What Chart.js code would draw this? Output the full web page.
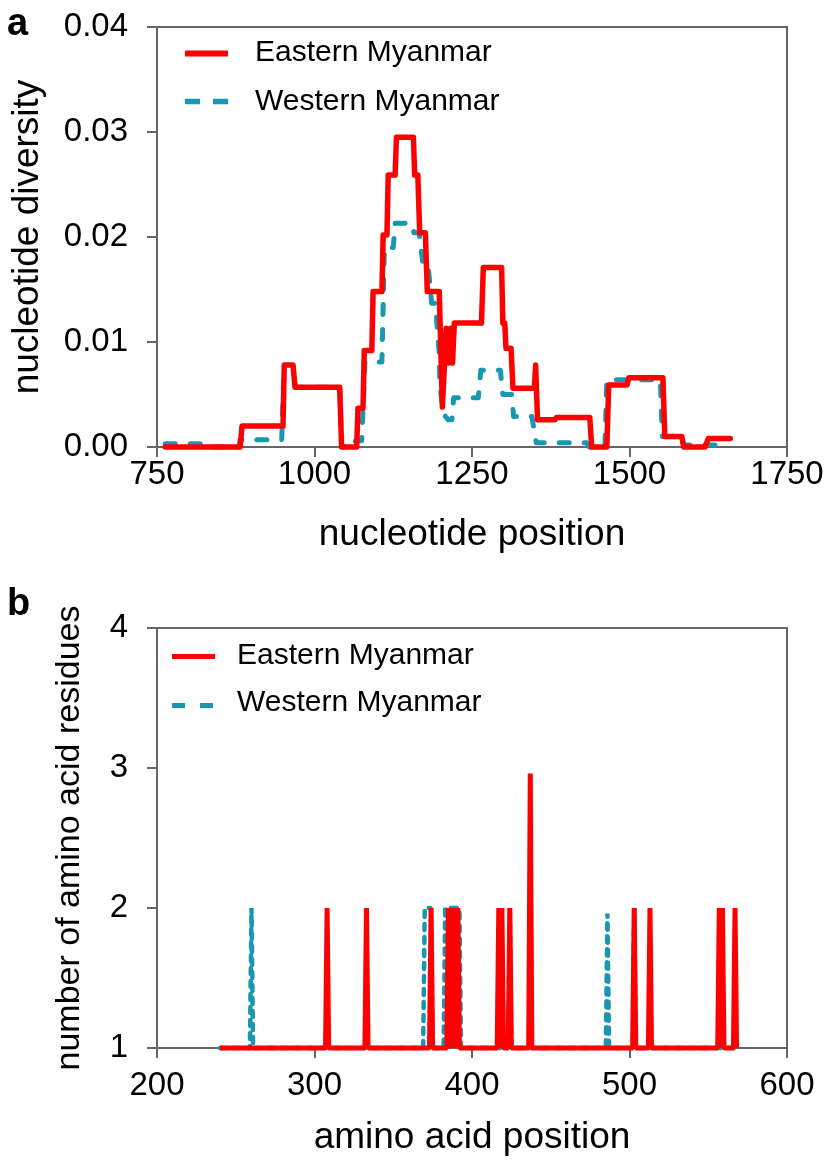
<!DOCTYPE html>
<html><head><meta charset="utf-8">
<script src="https://cdn.jsdelivr.net/npm/chart.js@4.4.0/dist/chart.umd.min.js"></script>
<style>
html,body{margin:0;padding:0;background:#fff;}
#wrap{position:relative;width:827px;height:1162px;overflow:hidden;}
canvas{position:absolute;left:0;}
#c1{top:0;}
#c2{top:580px;}
</style></head><body>
<div id="wrap"><canvas id="c1" width="827" height="580"></canvas><canvas id="c2" width="827" height="582"></canvas></div>
<script>
// ---------- DATA ----------
const seriesNames = ['Eastern Myanmar', 'Western Myanmar'];

// panel a: nucleotide diversity (sliding window)
const ntPositionEast = [763, 882, 885, 950, 952, 966, 969, 1040, 1043, 1067, 1069, 1077, 1079, 1091, 1093, 1107, 1109, 1115, 1117, 1128, 1130, 1157, 1159, 1164, 1167, 1176, 1179, 1198, 1203, 1209, 1213, 1216, 1219, 1222, 1265, 1268, 1297, 1299, 1302, 1304, 1312, 1315, 1349, 1351, 1354, 1382, 1384, 1437, 1440, 1464, 1467, 1496, 1499, 1553, 1556, 1583, 1586, 1620, 1625, 1660];
const ntDiversityEast = [0, 0, 0.002, 0.002, 0.0078, 0.0078, 0.0057, 0.0057, 0, 0, 0.0037, 0.0037, 0.0092, 0.0092, 0.0148, 0.0148, 0.0202, 0.0202, 0.0259, 0.0259, 0.0295, 0.0295, 0.0259, 0.0259, 0.0204, 0.0204, 0.0148, 0.0148, 0.0038, 0.0113, 0.0080, 0.0113, 0.0080, 0.0118, 0.0118, 0.0171, 0.0171, 0.0118, 0.0118, 0.0094, 0.0094, 0.0056, 0.0056, 0.0078, 0.0026, 0.0026, 0.0028, 0.0028, 0, 0, 0.0059, 0.0059, 0.0066, 0.0066, 0.001, 0.001, 0, 0, 0.0008, 0.0008];
const ntPositionWest = [763, 826, 828, 880, 882, 948, 951, 968, 970, 1040, 1043, 1062, 1065, 1075, 1080, 1107, 1111, 1125, 1128, 1154, 1158, 1166, 1172, 1180, 1186, 1192, 1198, 1199, 1204, 1212, 1218, 1221, 1260, 1264, 1295, 1299, 1313, 1316, 1345, 1352, 1432, 1436, 1461, 1464, 1549, 1552, 1583, 1586, 1648];
const ntDiversityWest = [0.0003, 0.0003, 0, 0, 0.0007, 0.0007, 0.0064, 0.0064, 0.0057, 0.0057, 0, 0, 0.0006, 0.0006, 0.0081, 0.0081, 0.019, 0.019, 0.0213, 0.0213, 0.0204, 0.0204, 0.0175, 0.0175, 0.0137, 0.0137, 0.0088, 0.006, 0.0032, 0.0026, 0.0026, 0.0047, 0.0047, 0.0073, 0.0073, 0.005, 0.005, 0.0029, 0.0029, 0.0004, 0.0004, 0, 0, 0.0064, 0.0064, 0.001, 0.001, 0.0002, 0.0002];
const ntTicks = [750, 1000, 1250, 1500, 1750];
const diversityTicks = [0, 0.01, 0.02, 0.03, 0.04];

// panel b: number of amino acid residues per position (1 elsewhere)
const aaRange = [240, 568];
const aaSitesEast  = [308, 333, 374, 385, 386, 387, 388, 389, 390, 391, 417, 418, 419, 424, 437, 503, 513, 557, 558, 559, 567];
const aaCountsEast = [2, 2, 2, 2, 1, 2, 1, 2, 1, 2, 2, 1, 2, 2, 2.96, 2, 2, 2, 1, 2, 2];
const aaSitesWest  = [260, 370, 371, 372, 373, 374, 383, 384, 385, 386, 387, 388, 389, 390, 391, 392, 424, 486, 503];
const aaCountsWest = [2, 2, 2, 2, 2, 2, 2, 2, 2, 2, 2, 2, 2, 2, 2, 2, 2, 1.96, 2];
const aaTicks = [200, 300, 400, 500, 600];
const residueTicks = [1, 2, 3, 4];

// ---------- HELPERS ----------
const FONT = '"Liberation Sans", Arial, Helvetica, sans-serif';
const RED = '#ff0000', TEAL = '#1798b0', AXIS = '#666666';

function pairs(xs, ys) { return xs.map((x, i) => ({x: x, y: ys[i]})); }
function spikeSeries(sites, counts, range, base) {
  const m = new Map(sites.map((s, i) => [s, counts[i]]));
  const pts = [{x: range[0], y: base}];
  sites.forEach((s, i) => {
    if (!m.has(s - 1)) pts.push({x: s - 1, y: base});
    pts.push({x: s, y: counts[i]});
    if (!m.has(s + 1)) pts.push({x: s + 1, y: base});
  });
  if (pts[pts.length - 1].x < range[1]) pts.push({x: range[1], y: base});
  return pts;
}

function xAxis(ticksArr, title, height, tickPad, titlePad) {
  return {
    type: 'linear', position: 'bottom', min: ticksArr[0], max: ticksArr[ticksArr.length - 1],
    afterBuildTicks: s => { s.ticks = ticksArr.map(v => ({value: v})); },
    afterFit: s => { s.height = height; s.paddingLeft = 0; s.paddingRight = 0; },
    border: {display: true, color: AXIS, width: 2},
    grid: {drawOnChartArea: false, drawTicks: true, tickLength: 10, color: AXIS, lineWidth: 2},
    ticks: {font: {family: FONT, size: 33, lineHeight: 1.1}, color: '#000', padding: tickPad, maxRotation: 0, autoSkip: false,
            callback: v => String(v)},
    title: {display: true, text: title, color: '#000', font: {family: FONT, size: 37, lineHeight: 1.2}, padding: {top: 0, bottom: titlePad}}
  };
}
function yAxis(ticksArr, title, fmt, titleSize, titlePad) {
  return {
    type: 'linear', position: 'left', min: ticksArr[0], max: ticksArr[ticksArr.length - 1],
    afterBuildTicks: s => { s.ticks = ticksArr.map(v => ({value: v})); },
    afterFit: s => { s.width = 157; s.paddingTop = 0; s.paddingBottom = 0; },
    border: {display: true, color: AXIS, width: 2},
    grid: {drawOnChartArea: false, drawTicks: true, tickLength: 10, color: AXIS, lineWidth: 2},
    ticks: {font: {family: FONT, size: 33, lineHeight: 1.1}, color: '#000', padding: 19, autoSkip: false, callback: fmt},
    title: {display: true, text: title, color: '#000', font: {family: FONT, size: titleSize, lineHeight: 1.2}, padding: {top: titlePad, bottom: 0}}
  };
}

const framePlugin = {
  id: 'frame',
  beforeDatasetsDraw(chart) {
    const {left, top, right, bottom} = chart.chartArea;
    const ctx = chart.ctx;
    ctx.save();
    ctx.strokeStyle = AXIS; ctx.lineWidth = 2;
    ctx.beginPath(); ctx.moveTo(left, top); ctx.lineTo(right, top); ctx.lineTo(right, bottom + 10); ctx.stroke();
    ctx.restore();
  }
};
const legendPlugin = {
  id: 'insideLegend',
  afterDraw(chart, args, o) {
    const ctx = chart.ctx;
    ctx.save();
    o.items.forEach((it, i) => {
      ctx.strokeStyle = it.color; ctx.lineWidth = it.width;
      ctx.setLineDash(it.dash || []); ctx.lineCap = 'butt';
      ctx.beginPath(); ctx.moveTo(o.x0, it.lineY); ctx.lineTo(o.x1, it.lineY); ctx.stroke();
      ctx.setLineDash([]);
      ctx.fillStyle = '#000'; ctx.font = o.size + 'px ' + FONT;
      ctx.textBaseline = 'middle'; ctx.textAlign = 'left';
      ctx.fillText(chart.data.datasets[i].label, o.tx, it.textY);
    });
    ctx.font = 'bold ' + o.panelSize + 'px ' + FONT;
    ctx.textBaseline = 'alphabetic'; ctx.fillStyle = '#000';
    ctx.fillText(o.panel, o.panelX, o.panelY);
    ctx.restore();
  }
};

const common = {
  responsive: false, animation: false, devicePixelRatio: 1, events: [],
};

// ---------- CHART A ----------
new Chart(document.getElementById('c1'), {
  type: 'line',
  data: {datasets: [
    {label: seriesNames[0], data: pairs(ntPositionEast, ntDiversityEast), borderColor: RED, borderWidth: 5.5,
     pointRadius: 0, tension: 0, fill: false, clip: false, borderJoinStyle: 'round', borderCapStyle: 'round'},
    {label: seriesNames[1], data: pairs(ntPositionWest, ntDiversityWest), borderColor: TEAL, borderWidth: 5,
     borderDash: [10, 15], borderCapStyle: 'round', pointRadius: 0, tension: 0, fill: false, clip: false, borderJoinStyle: 'round'}
  ]},
  options: Object.assign({}, common, {
    layout: {padding: {left: 0, top: 27, right: 40, bottom: 0}},
    scales: {
      x: xAxis(ntTicks, 'nucleotide position', 133, 0, 23),
      y: yAxis(diversityTicks, 'nucleotide diversity', v => Number(v).toFixed(2), 37, 6)
    },
    plugins: {
      legend: {display: false}, tooltip: {enabled: false},
      insideLegend: {x0: 185, x1: 228, tx: 255, size: 30,
        items: [{color: RED, width: 6, lineY: 53.5, textY: 52.5}, {color: TEAL, width: 5.5, dash: [15, 13], lineY: 101.5, textY: 101.5}],
        panel: 'a', panelSize: 38, panelX: 7, panelY: 35}
    }
  }),
  plugins: [framePlugin, legendPlugin]
});

// ---------- CHART B ----------
new Chart(document.getElementById('c2'), {
  type: 'line',
  data: {datasets: [
    {label: seriesNames[0], data: spikeSeries(aaSitesEast, aaCountsEast, aaRange, 1), borderColor: RED, borderWidth: 5,
     pointRadius: 0, tension: 0, fill: false, clip: false, borderJoinStyle: 'bevel'},
    {label: seriesNames[1], data: spikeSeries(aaSitesWest, aaCountsWest, aaRange, 1), borderColor: TEAL, borderWidth: 4.5,
     borderDash: [6, 7], borderCapStyle: 'round', pointRadius: 0, tension: 0, fill: false, clip: false, borderJoinStyle: 'bevel'}
  ]},
  options: Object.assign({}, common, {
    layout: {padding: {left: 0, top: 48, right: 40, bottom: 0}},
    scales: {
      x: xAxis(aaTicks, 'amino acid position', 114, 10, 2),
      y: yAxis(residueTicks, 'number of amino acid residues', v => String(v), 34, 49)
    },
    plugins: {
      legend: {display: false}, tooltip: {enabled: false},
      insideLegend: {x0: 172, x1: 215, tx: 237, size: 30,
        items: [{color: RED, width: 5, lineY: 76.5, textY: 76}, {color: TEAL, width: 5, dash: [13, 15], lineY: 125.5, textY: 122.5}],
        panel: 'b', panelSize: 38, panelX: 7, panelY: 35}
    }
  }),
  plugins: [framePlugin, legendPlugin]
});
</script>
</body></html>
